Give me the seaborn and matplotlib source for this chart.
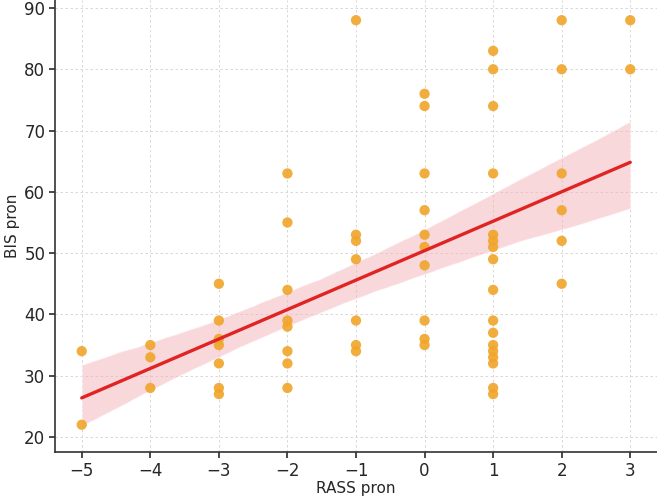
import matplotlib
matplotlib.use("Agg")
import matplotlib.pyplot as plt
import numpy as np
import pandas as pd
import seaborn as sns

# RASS pron levels and the BIS pron values read at each level
rass_levels = [-5, -4, -3, -2, -1, 0, 1, 2, 3]
bis_by_rass = [
    [34, 22],
    [35, 33, 28],
    [45, 39, 36, 35, 32, 28, 27],
    [63, 55, 44, 39, 38, 34, 32, 28],
    [88, 53, 52, 49, 39, 35, 34],
    [76, 74, 63, 57, 53, 51, 48, 39, 36, 35],
    [83, 80, 74, 63, 53, 52, 51, 49, 44, 39, 37, 35, 34, 33, 32, 28, 27],
    [88, 80, 63, 57, 52, 45],
    [88, 80],
]
x_ticks = [-5, -4, -3, -2, -1, 0, 1, 2, 3]
y_ticks = [20, 30, 40, 50, 60, 70, 80, 90]

rass = [r for r, vals in zip(rass_levels, bis_by_rass) for _ in vals]
bis = [v for vals in bis_by_rass for v in vals]
df = pd.DataFrame({"RASS pron": rass, "BIS pron": bis})

sns.set_theme(style="ticks")
plt.rcParams["font.family"] = ["DejaVu Sans"]

fig = plt.figure(figsize=(6.57, 4.99), dpi=100)
ax = fig.add_axes([55 / 657, 47 / 499, 602 / 657, 452 / 499])

sns.regplot(
    data=df, x="RASS pron", y="BIS pron", ax=ax,
    color="#e02424", ci=90, seed=0, truncate=True,
    scatter_kws={"color": "#f0a52a", "alpha": 0.9, "s": 55, "edgecolor": "none", "zorder": 3},
    line_kws={"color": "#e02424", "lw": 2.4, "zorder": 4},
)
# light pink confidence band
for coll in ax.collections[1:]:
    coll.set_facecolor("#f4b3ba")
    coll.set_alpha(0.5)

ax.set_xlim(-5.39, 3.39)
ax.set_ylim(17.55, 91.3)
ax.set_xticks(x_ticks)
ax.set_yticks(y_ticks)
ax.grid(True, linestyle=(0, (3, 3)), color="#d2d2d2", lw=0.6)
ax.set_axisbelow(True)
ax.tick_params(labelsize=12, length=4, color="#333333", pad=3)
ax.set_xlabel("RASS pron", fontsize=11, labelpad=1)
ax.set_ylabel("BIS pron", fontsize=11, labelpad=3)
for side in ("left", "bottom"):
    ax.spines[side].set_color("#333333")
    ax.spines[side].set_linewidth(1.2)
sns.despine(ax=ax)

fig.savefig("out.png", dpi=100)
